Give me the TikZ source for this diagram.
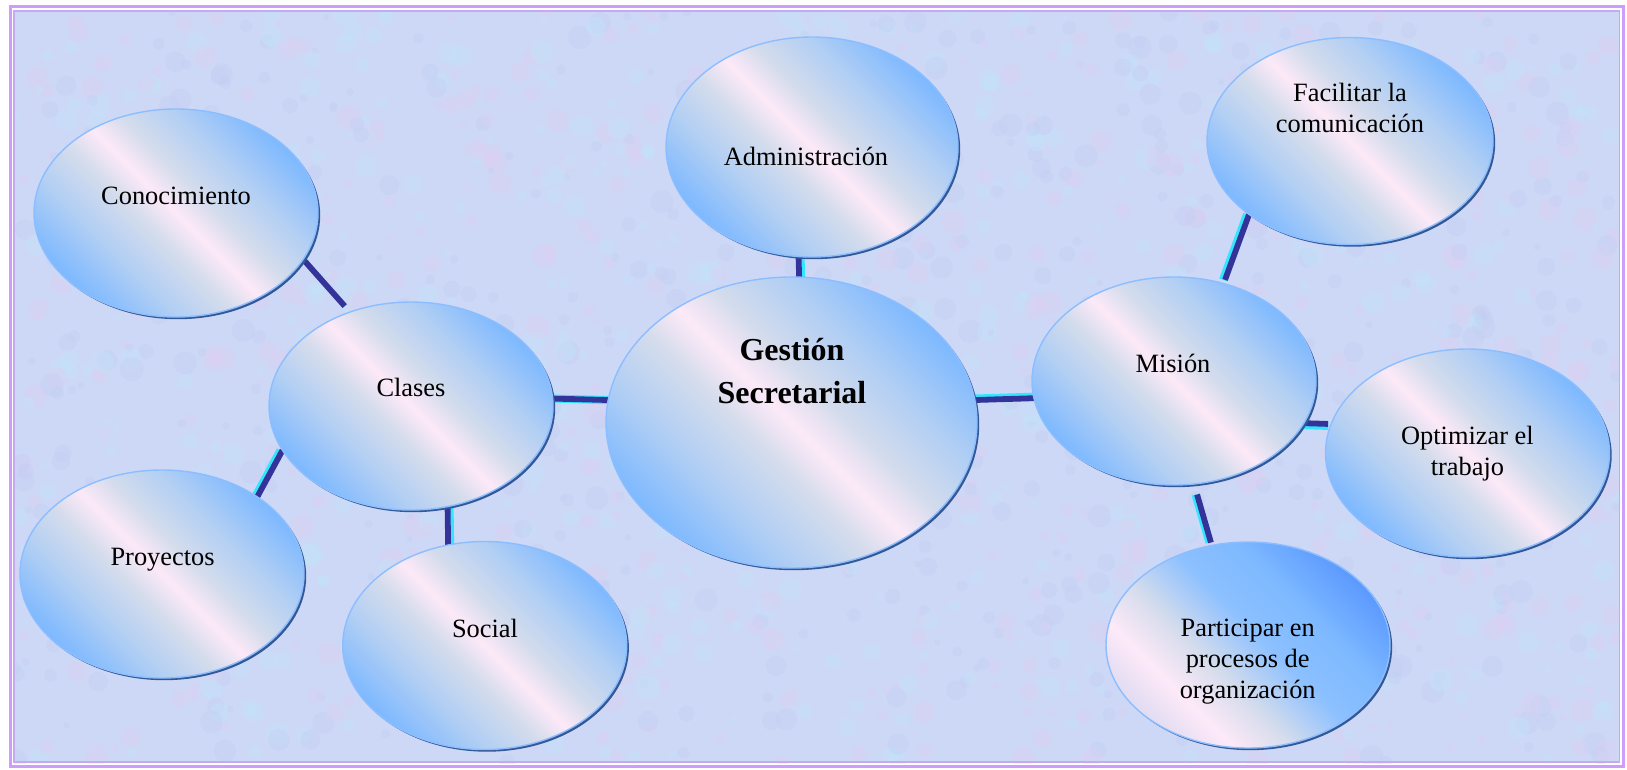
\documentclass[tikz,border=0pt]{standalone}
\usepackage{fontspec}
\setmainfont{Liberation Serif}
\usetikzlibrary{shapes.geometric}

% palette
\definecolor{pagebg}{RGB}{205,216,246}
\definecolor{blotchpink}{RGB}{226,206,242}
\definecolor{blotchcyan}{RGB}{190,232,250}
\definecolor{blotchblue}{RGB}{192,204,242}
\definecolor{frameouter}{RGB}{206,156,250}
\definecolor{frameinner}{RGB}{196,170,240}
\definecolor{bubblue}{RGB}{126,185,255}
\definecolor{bubmid}{RGB}{176,206,244}
\definecolor{bubgrey}{RGB}{212,220,236}
\definecolor{bubpink}{RGB}{253,233,248}
\definecolor{bubdeep}{RGB}{92,154,255}
\definecolor{bubdeepmid}{RGB}{140,192,255}
\definecolor{bubrose}{RGB}{226,220,242}
\definecolor{rimlight}{RGB}{140,190,255}
\definecolor{rimdark}{RGB}{52,88,150}
\definecolor{navyline}{RGB}{51,51,153}
\definecolor{cyanline}{RGB}{51,230,255}

% diagonal band shading of the bubbles
\pgfdeclareverticalshading{bubbleshade}{100bp}{%
  color(0bp)=(bubblue); color(25bp)=(bubblue); color(35bp)=(bubmid);
  color(44bp)=(bubgrey); color(50bp)=(bubpink); color(56bp)=(bubgrey);
  color(65bp)=(bubmid); color(75bp)=(bubblue); color(100bp)=(bubblue)}
\pgfdeclareverticalshading{bubbleshadedeep}{100bp}{%
  color(0bp)=(bubrose); color(25bp)=(bubrose); color(33bp)=(bubpink);
  color(42bp)=(bubgrey); color(53bp)=(bubdeepmid); color(63bp)=(bubblue);
  color(75bp)=(bubdeep); color(100bp)=(bubdeep)}

\pgfdeclarelayer{back}
\pgfdeclarelayer{links}
\pgfsetlayers{back,links,main}

\tikzset{
  bubble/.style={ellipse, inner sep=0pt, outer sep=0pt,
    draw=rimlight, line width=1.4pt,
    shade, shading=bubbleshade, shading angle=-45,
    preaction={fill=rimdark, transform canvas={shift={(2.2pt,-2.2pt)}}}},
  small/.style={bubble, minimum width=284pt, minimum height=208pt},
  lbl/.style={inner sep=0pt, align=center, font=\fontsize{26.4}{31}\selectfont},
  onelbl/.style={lbl, text height=17pt, text depth=0pt},
  link/.style={draw=navyline, line width=5.8pt},
  glow/.style={preaction={draw=cyanline, line width=8pt,
    transform canvas={shift={#1}}}},
}

\begin{document}
\begin{tikzpicture}[x=1pt, y=-1pt]
\useasboundingbox (0,0) rectangle (1627,769);

% mottled paper and double frame
\begin{pgfonlayer}{back}
  \fill[white] (0,0) rectangle (1627,769);
  \fill[pagebg] (14,10) rectangle (1620,763);
  \begin{scope}
    \clip (14,10) rectangle (1620,763);
    \pgfmathsetseed{11}
    \foreach \i in {1,...,1800} {
      \pgfmathsetmacro{\px}{14+rnd*1606}
      \pgfmathsetmacro{\py}{10+rnd*753}
      \pgfmathsetmacro{\pr}{3+rnd*9}
      \pgfmathtruncatemacro{\pc}{mod(\i,3)}
      \ifcase\pc
        \fill[blotchpink, opacity=0.30] (\px,\py) circle[radius=\pr pt];
      \or
        \fill[blotchcyan, opacity=0.30] (\px,\py) circle[radius=\pr pt];
      \or
        \fill[blotchblue, opacity=0.30] (\px,\py) circle[radius=\pr pt];
      \fi
    }
  \end{scope}
  \draw[frameinner, line width=1.8pt] (14,11) rectangle (1619.5,762);
  \draw[frameouter, line width=3.3pt] (10.5,6.5) rectangle (1623.3,766.6);
\end{pgfonlayer}

% bubbles
\node[bubble, minimum width=371pt, minimum height=291pt] (ges) at (791.5,422.5) {};
\node[bubble, minimum width=292pt, minimum height=220pt] (adm) at (812,147) {};
\node[small] (con) at (176,213) {};
\node[small] (cla) at (411,406) {};
\node[small] (pro) at (162,574) {};
\node[small] (soc) at (484.7,645.5) {};
\node[small] (mis) at (1174,381) {};
\node[small, minimum width=286pt, minimum height=207pt] (fac) at (1350,141) {};
\node[small] (opt) at (1467.5,453) {};
\node[small, shading=bubbleshadedeep, minimum height=206pt] (par) at (1248,645) {};

% labels
\node[lbl, font=\fontsize{32}{43.7}\selectfont\bfseries] (t-ges) at (792,371) {Gestión\\Secretarial};
\node[onelbl] (t-adm) at (806,157) {Administración};
\node[onelbl] (t-con) at (176,196) {Conocimiento};
\node[onelbl] (t-cla) at (411,388) {Clases};
\node[onelbl] (t-pro) at (162.6,557) {Proyectos};
\node[onelbl] (t-soc) at (485,628.6) {Social};
\node[onelbl] (t-mis) at (1173,364) {Misión};
\node[lbl] (t-fac) at (1350,108) {Facilitar la\\comunicación};
\node[lbl] (t-opt) at (1467.4,453.4) {Optimizar el\\trabajo};
\node[lbl] (t-par) at (1247.7,661.2) {Participar en\\procesos de\\organización};

% connectors
\begin{pgfonlayer}{links}
  \draw[link, shorten >=8pt] (con.340) -- (cla.123);
  \draw[link, glow={(0pt,0pt)}] (cla.3) -- (ges.173);
  \draw[link, glow={(2pt,0pt)}] (adm.263) -- (ges.87);
  \draw[link, glow={(0pt,1.5pt)}] (ges.7) -- (mis.187);
  \draw[link, glow={(-2pt,0pt)}] (cla.199) -- (pro.39);
  \draw[link, glow={(2pt,0pt)}] (cla.290) -- (soc.110);
  \draw[link, glow={(-2pt,0pt)}, shorten <=4pt] (mis.63) -- (fac.216);
  \draw[link, glow={(0pt,-2pt)}, shorten >=3pt] (mis.342) -- (opt.168);
  \draw[link, glow={(-1.5pt,0pt)}, shorten <=11pt, shorten >=3pt] (mis.281) -- (par.110);
\end{pgfonlayer}
\end{tikzpicture}
\end{document}
